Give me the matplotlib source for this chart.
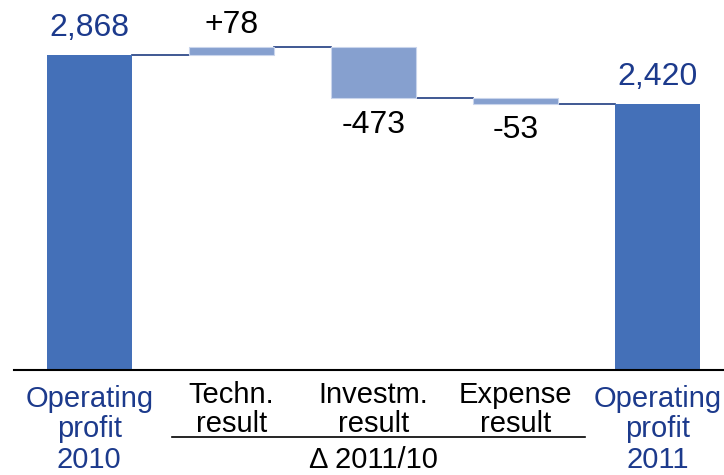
import numpy as np
import matplotlib
matplotlib.use("Agg")
import matplotlib.pyplot as plt
from matplotlib.transforms import blended_transform_factory

plt.rcParams['font.family'] = ['Liberation Sans', 'DejaVu Sans']

# data
categories = ["Operating\nprofit\n2010", "Techn.\nresult", "Investm.\nresult",
              "Expense\nresult", "Operating\nprofit\n2011"]
start_value = 2868
deltas = [78, -473, -53]
end_value = 2420
group_label = "Δ 2011/10"

dark_blue = "#4470b8"
light_blue = "#86a0cf"
navy = "#1c3a8c"
line_col = "#1f3c80"

fig = plt.figure(figsize=(7.24, 4.75), dpi=100)
ax = fig.add_axes([14 / 724, 1 - 370 / 475, 710 / 724, 370 / 475])

x = np.arange(len(categories))
width = 0.6

# cumulative levels
levels = [start_value]
for d in deltas:
    levels.append(levels[-1] + d)

# total bars
ax.bar(0, start_value, width, color=dark_blue, zorder=2)
ax.bar(len(categories) - 1, end_value, width, color=dark_blue, zorder=2)

# delta bars
for i, d in enumerate(deltas):
    bottom = levels[i] if d > 0 else levels[i] + d
    ax.bar(i + 1, abs(d), width, bottom=bottom, color=light_blue,
           edgecolor="#c9d5ec", linewidth=0.8, zorder=2)

# connectors
for i in range(len(categories) - 1):
    lvl = levels[i]
    ax.plot([x[i] + width / 2, x[i + 1] - width / 2], [lvl, lvl],
            color=line_col, lw=1.2, zorder=1)

# value labels
fs_val = 23
ax.annotate(f"{start_value:,}", (0, start_value), xytext=(0, 9),
            textcoords="offset points", ha="center", va="bottom",
            fontsize=fs_val, color=navy)
ax.annotate(f"{end_value:,}", (len(categories) - 1, end_value), xytext=(0, 9),
            textcoords="offset points", ha="center", va="bottom",
            fontsize=fs_val, color=navy)
for i, d in enumerate(deltas):
    if d > 0:
        ax.annotate(f"+{d}", (i + 1, levels[i] + d), xytext=(0, 5),
                    textcoords="offset points", ha="center", va="bottom",
                    fontsize=fs_val, color="black")
    else:
        ax.annotate(f"{d}", (i + 1, levels[i] + d), xytext=(0, -8),
                    textcoords="offset points", ha="center", va="top",
                    fontsize=fs_val, color="black")

ax.set_xlim(-0.53, 4.47)
ax.set_ylim(0, 3370)
for s in ["top", "right", "left"]:
    ax.spines[s].set_visible(False)
ax.spines["bottom"].set_color("black")
ax.spines["bottom"].set_linewidth(1.5)
ax.set_yticks([])
ax.set_xticks([])

# category labels
fs_cat = 21
trans = blended_transform_factory(ax.transData, ax.transAxes)
for i, c in enumerate(categories):
    if i in (0, len(categories) - 1):
        ax.text(x[i], -0.04, c, transform=trans, ha="center", va="top",
                fontsize=fs_cat, color=navy, linespacing=1.11)
    else:
        ax.text(x[i], -0.03, c, transform=trans, ha="center", va="top",
                fontsize=fs_cat, color="black", linespacing=1.03)

ax.plot([0.585, 3.49], [-0.181, -0.181], transform=trans, color="black",
        lw=1.2, clip_on=False)
ax.text(2, -0.244, group_label, transform=trans, ha="center", va="center",
        fontsize=fs_cat, color="black")

fig.savefig("out.png", dpi=100)
